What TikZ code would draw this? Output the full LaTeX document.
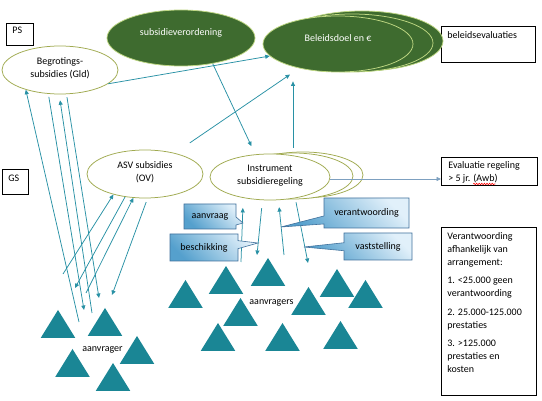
\documentclass[tikz,border=0pt]{standalone}
\usepackage{fontspec}
\setmainfont{Carlito}
\usetikzlibrary{shapes.geometric,shapes.callouts,arrows.meta,decorations.pathmorphing}
\newlength\awbpre
\newlength\awbwid
\definecolor{olivel}{RGB}{160,170,80}
\definecolor{dgreen}{RGB}{62,107,47}
\definecolor{lgreen}{RGB}{190,215,130}
\definecolor{conncol}{RGB}{40,145,165}
\definecolor{tricol}{RGB}{26,134,149}
\definecolor{callb}{RGB}{65,113,156}
\definecolor{calldark}{RGB}{85,160,205}
\definecolor{calllight}{RGB}{225,240,250}
\definecolor{evalarr}{RGB}{125,160,192}
\begin{document}
\settowidth{\awbpre}{\fontsize{10}{13}\selectfont > 5 jr.\ }%
\settowidth{\awbwid}{\fontsize{10}{13}\selectfont (Awb)}%
\begin{tikzpicture}[x=1pt,y=-1pt,
  every node/.style={font=\fontsize{10}{13}\selectfont},
  wellipse/.style={ellipse, draw=olivel, line width=0.75pt, fill=white, inner sep=0pt, align=center},
  gellipse/.style={ellipse, draw=lgreen, line width=0.75pt, fill=dgreen, inner sep=0pt, text=white, align=center},
  tbox/.style={draw=black, line width=0.75pt, anchor=north west, inner xsep=6pt, inner ysep=4pt},
  conn/.style={draw=conncol, line width=0.75pt},
  arr/.style={conn, -{Triangle[length=4.5pt,width=4pt]}},
  evarrow/.style={draw=evalarr, line width=0.75pt, -{Triangle[length=4.5pt,width=4pt]}},
  callbox/.style={rectangle callout, draw=callb, line width=0.6pt, top color=calllight, bottom color=calldark, shading angle=-45, inner sep=0pt, callout pointer width=8pt},
  grouplabel/.style={inner sep=1pt},
  spell/.style={draw=red, line width=0.55pt, decorate, decoration={snake, amplitude=0.8pt, segment length=2.6pt}}
]
\useasboundingbox (0,0) rectangle (542,401);
\fill[white] (0,0) rectangle (542,401);

% boxes
\node[tbox] (ps) at (6,23) {\parbox[c][14pt][t]{15pt}{PS}};
\node[tbox, inner ysep=6pt] (gs) at (2,169) {\parbox[c][13pt][t]{14pt}{GS}};
\node[tbox, inner ysep=5pt] (bev) at (441,26) {\parbox[c][26pt][t]{82pt}{beleidsevaluaties}};
\node[tbox, inner xsep=7pt] (evr) at (441,157) {\parbox[c][20pt][t]{82pt}{\raggedright Evaluatie regeling\\ > 5 jr. (Awb)}};
\node[tbox, inner ysep=5pt] (verb) at (441,227) {\parbox[c][158pt][t]{83pt}{\raggedright
Verantwoording\\ afhankelijk van\\ arrangement:\\[5.5pt]
1. <25.000 geen\\ verantwoording\\[5.5pt]
2. 25.000-125.000\\ prestaties\\[5.5pt]
3. >125.000\\ prestaties en\\ kosten}};
\draw[spell] ([xshift=7pt+\awbpre+1pt, yshift=-27pt]evr.north west) -- ++(\awbwid-2pt,0);

% ellipses
\node[wellipse, minimum width=116pt, minimum height=48pt, text depth=4pt] (beg) at (60,70) {Begrotings-\\subsidies (Gld)};
\node[gellipse, minimum width=148pt, minimum height=56pt, text depth=12pt] (sv) at (181,38) {subsidieverordening};
\node[gellipse, minimum width=162pt, minimum height=60pt] (bd3) at (362,41) {};
\node[gellipse, minimum width=162pt, minimum height=58pt] (bd2) at (352,43) {};
\node[gellipse, minimum width=150pt, minimum height=56pt, text depth=12pt] (bd) at (338,44) {Beleidsdoel en €};
\node[wellipse, minimum width=116pt, minimum height=48pt, text depth=4pt] (asv) at (145,174) {ASV subsidies\\(OV)};
\node[wellipse, minimum width=120pt, minimum height=46pt] (ins3) at (303,175) {};
\node[wellipse, minimum width=120pt, minimum height=46pt] (ins2) at (293,176) {};
\node[wellipse, minimum width=120pt, minimum height=46pt, text depth=4pt] (ins) at (270,177) {Instrument\\subsidieregeling};

% triangles (aanvragers)
\foreach \x/\y in {58/310, 105/308, 137/336, 72.5/349, 113/363,
  185.5/280, 226/266, 268/258, 240.5/298, 218/323, 308.5/287, 282.5/323, 337/269, 365.5/280, 340.5/321}
  \fill[tricol] (\x,\y) -- ++(17.2,27.8) -- ++(-34.4,0) -- cycle;
\node[grouplabel] (lab1) at (102.5,350) {aanvrager};
\node[grouplabel] (lab2) at (271.5,303) {aanvragers};

% free ends
\coordinate (c1) at (79,322);
\coordinate (c2) at (84,310);
\coordinate (c3) at (92,313);
\coordinate (c4) at (99,298);
\coordinate (a1) at (63,274);
\coordinate (a2) at (75,288);
\coordinate (a3) at (86,293);
\coordinate (a4) at (112,295);
\coordinate (i1) at (241,262);
\coordinate (i2) at (257,255);
\coordinate (i3) at (284,255);
\coordinate (i4) at (308,263);
\coordinate (p1) at (243,223);
\coordinate (p2) at (258,243);
\coordinate (p3) at (281,227);
\coordinate (p4) at (304,247);

% connectors
\draw[arr] (c1) -- (beg.210);
\draw[arr, shorten <=3pt] (beg.244) -- (c2);
\draw[arr, shorten >=6pt] (c3) -- (beg.268);
\draw[arr, shorten <=3pt] (beg.285) -- (c4);
\draw[arr] (a1) -- (asv.213);
\draw[arr] (asv.229) -- (a2);
\draw[arr] (a3) -- (asv.244);
\draw[arr, shorten <=4pt] (asv.276) -- (a4);
\draw[arr] (beg.344) -- (bd.190);
\draw[arr, shorten >=9pt] (sv.321) -- (ins.123);
\draw[arr, shorten <=18pt, shorten >=11pt] (asv.35) -- (bd.212);
\draw[arr, shorten <=5pt, shorten >=9pt] (ins2.north) -- (ins2.north |- bd.south);
\draw[arr, shorten >=10pt] (i1) -- (ins.218);
\draw[arr, shorten <=8pt] (ins.252) -- (i2);
\draw[arr, shorten >=7pt] (i3) -- (ins.290);
\draw[arr, shorten <=3pt] (ins2.276) -- (i4);
\draw[evarrow] ([yshift=-2pt]ins.east) -- ([yshift=-2pt]ins.east -| evr.west);

% callouts
\node[callbox, minimum width=52pt, minimum height=25pt, callout absolute pointer=(p1)] (caanv) at (210,216.5) {aanvraag};
\node[callbox, minimum width=68pt, minimum height=27pt, callout absolute pointer=(p2)] (cbesch) at (204,247.5) {beschikking};
\node[callbox, minimum width=85pt, minimum height=30pt, callout absolute pointer=(p3)] (cverant) at (366.5,213) {verantwoording};
\node[callbox, minimum width=68pt, minimum height=27pt, callout absolute pointer=(p4)] (cvast) at (378,246.5) {vaststelling};
\end{tikzpicture}
\end{document}
